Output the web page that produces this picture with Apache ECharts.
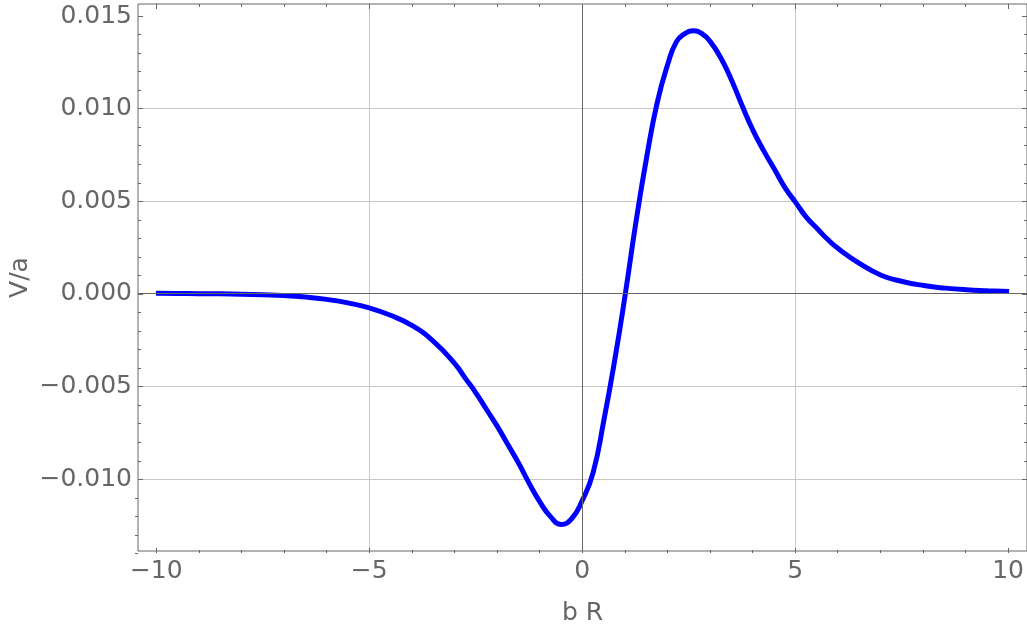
<!DOCTYPE html>
<html>
<head>
<meta charset="utf-8">
<script src="https://cdn.jsdelivr.net/npm/echarts@6/dist/echarts.min.js"></script>
<style>
  html, body { margin: 0; padding: 0; background: #fff; }
  #chart { width: 1027px; height: 631px; }
</style>
</head>
<body>
<div id="chart"></div>
<script>
// values
const bR = [-10, -9.5, -9, -8.5, -8, -7.5, -7, -6.5, -6, -5.5, -5, -4.5, -4, -3.5,
    -3, -2.75, -2.5, -2.25, -2, -1.75, -1.5, -1.25, -1, -0.75, -0.5, -0.25,
    0, 0.25, 0.5, 0.75, 1, 1.25, 1.5, 1.75, 2, 2.2, 2.4, 2.6, 2.8,
    3, 3.25, 3.5, 3.75, 4, 4.25, 4.5, 4.75, 5, 5.25, 5.5, 5.75,
    6, 6.5, 7, 7.5, 8, 8.5, 9, 9.5, 10];
const Va = [-0.00001, -0.00002, -0.00003, -0.00004, -0.00006, -0.00009, -0.00013, -0.00021, -0.00034, -0.00053,
    -0.00080, -0.00120, -0.00175, -0.0026,
    -0.0038, -0.0046, -0.0054, -0.0063, -0.0072, -0.0082, -0.0092, -0.0103, -0.0113, -0.0121, -0.01252, -0.0122,
    -0.0112, -0.0097, -0.0069, -0.0037, -0.0001, 0.0038, 0.0073, 0.0103, 0.0124, 0.0136, 0.01405, 0.0142, 0.01405,
    0.0136, 0.0127, 0.0115, 0.0101, 0.0088, 0.0077, 0.0067, 0.0057, 0.0049, 0.0041, 0.0035, 0.0029,
    0.0024, 0.0016, 0.00097, 0.00063, 0.00041, 0.00027, 0.00018, 0.00013, 0.00009];

const xTicks = [-10, -5, 0, 5, 10];
const xTickLabels = ['\u221210', '\u22125', '0', '5', '10'];
const yTicks = [-0.010, -0.005, 0, 0.005, 0.010, 0.015];
const yTickLabels = ['\u22120.010', '\u22120.005', '0.000', '0.005', '0.010', '0.015'];

const FONT = 'DejaVu Sans';
const AXIS_GRAY = '#666';
const GRID_GRAY = '#c8c8c8';
const NONE = 'rgba(0,0,0,0)';

function pickLabel(ticks, labels, v) {
    for (let i = 0; i < ticks.length; i++) {
        if (Math.abs(ticks[i] - v) < 1e-9) return labels[i];
    }
    return '';
}

const chart = echarts.init(document.getElementById('chart'), null, { renderer: 'canvas' });

const tickStyle = { show: true, inside: true, length: 5, lineStyle: { color: AXIS_GRAY, width: 1 } };
const minorStyle = { show: true, splitNumber: 5, length: 3, lineStyle: { color: AXIS_GRAY, width: 1 } };
const labelStyle = { color: AXIS_GRAY, fontFamily: FONT, fontSize: 25 };

const option = {
    animation: false,
    backgroundColor: '#fff',
    grid: [
        // frame + data
        { left: 138, right: 0, top: 4, bottom: 78, show: true, borderColor: AXIS_GRAY, borderWidth: 1 },
        // x ticks
        { left: 156.3, right: 17.7, top: 4, bottom: 78 },
        // y ticks
        { left: 138, right: 0, top: 16, bottom: 151.7 },
        // y minor ticks under -0.010
        { left: 138, right: 0, top: 479.3, bottom: 59 }
    ],
    xAxis: [
        {
            gridIndex: 0, type: 'value', min: -10.42, max: 10.42,
            axisLine: { show: false }, axisTick: { show: false }, axisLabel: { show: false }, splitLine: { show: false },
            name: 'b R', nameLocation: 'middle', nameGap: 50,
            nameTextStyle: { color: AXIS_GRAY, fontFamily: FONT, fontSize: 25 }
        },
        {
            gridIndex: 1, type: 'value', position: 'bottom', min: -10, max: 10, interval: 5,
            axisLine: { show: false }, axisTick: tickStyle, minorTick: minorStyle,
            axisLabel: Object.assign({ margin: 6, formatter: v => pickLabel(xTicks, xTickLabels, v) }, labelStyle),
            splitLine: { show: true, lineStyle: { color: [NONE, GRID_GRAY, NONE, GRID_GRAY, NONE], width: 1 } }
        },
        {
            gridIndex: 1, type: 'value', position: 'top', min: -10, max: 10, interval: 5,
            axisLine: { show: false }, axisTick: tickStyle, minorTick: minorStyle,
            axisLabel: { show: false }, splitLine: { show: false }
        },
        { gridIndex: 2, type: 'value', show: false },
        { gridIndex: 3, type: 'value', show: false }
    ],
    yAxis: [
        {
            gridIndex: 0, type: 'value', min: -0.01396, max: 0.01565,
            axisLine: { show: false }, axisTick: { show: false }, axisLabel: { show: false }, splitLine: { show: false },
            name: 'V/a', nameLocation: 'middle', nameRotate: 90, nameGap: 105,
            nameTextStyle: { color: AXIS_GRAY, fontFamily: FONT, fontSize: 25 }
        },
        { gridIndex: 1, type: 'value', show: false },
        {
            gridIndex: 2, type: 'value', position: 'left', min: -0.010, max: 0.015, interval: 0.005,
            axisLine: { show: false }, axisTick: tickStyle, minorTick: minorStyle,
            axisLabel: Object.assign({ margin: 6, formatter: v => pickLabel(yTicks, yTickLabels, v) }, labelStyle),
            splitLine: { show: true, lineStyle: { color: [GRID_GRAY, GRID_GRAY, NONE, GRID_GRAY, GRID_GRAY, NONE], width: 1 } }
        },
        {
            gridIndex: 2, type: 'value', position: 'right', min: -0.010, max: 0.015, interval: 0.005,
            axisLine: { show: false }, axisTick: tickStyle, minorTick: minorStyle,
            axisLabel: { show: false }, splitLine: { show: false }
        },
        {
            gridIndex: 3, type: 'value', position: 'left', min: -0.015, max: -0.010, interval: 0.005,
            axisLine: { show: false }, axisTick: { show: false }, minorTick: minorStyle,
            axisLabel: { show: false }, splitLine: { show: false }
        },
        {
            gridIndex: 3, type: 'value', position: 'right', min: -0.015, max: -0.010, interval: 0.005,
            axisLine: { show: false }, axisTick: { show: false }, minorTick: minorStyle,
            axisLabel: { show: false }, splitLine: { show: false }
        }
    ],
    series: [
        {
            type: 'line',
            xAxisIndex: 0, yAxisIndex: 0,
            data: bR.map((x, i) => [x, Va[i]]),
            showSymbol: false,
            smooth: 0.5,
            lineStyle: { color: '#0000ff', width: 5 },
            markLine: {
                silent: true,
                symbol: 'none',
                label: { show: false },
                lineStyle: { color: AXIS_GRAY, type: 'solid', width: 1 },
                data: [{ xAxis: 0 }, { yAxis: 0 }]
            }
        }
    ]
};

option && chart.setOption(option);
</script>
</body>
</html>
